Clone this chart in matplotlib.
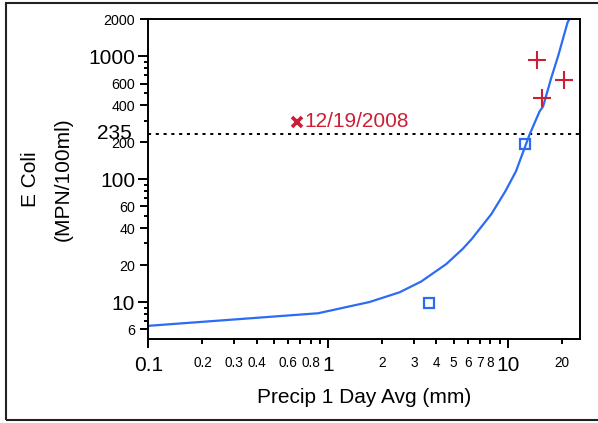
import matplotlib
matplotlib.use("Agg")
import matplotlib.pyplot as plt
from matplotlib.patches import Rectangle
from matplotlib.ticker import FixedLocator, NullFormatter

plt.rcParams['font.family'] = ['Liberation Sans', 'DejaVu Sans']

# Fitted E. coli response curve vs. 1-day average precipitation
curve_x = [0.1, 0.88, 1.7, 2.5, 3.3, 4.55, 5.6, 6.3, 8.1, 9.7, 11.1,
           13.2, 15.0, 15.7, 17.4, 19.1, 21.5, 22.0]
curve_y = [6.4, 8.1, 10.0, 12.0, 14.7, 20.4, 27.0, 32.6, 52.0, 80.0, 116.0,
           230.0, 355.0, 390.0, 660.0, 1020.0, 1890.0, 2000.0]

# Samples below / near the standard
ok_x = [3.64, 12.4]
ok_y = [9.8, 195.0]

# Samples above the standard
high_x = [14.5, 15.5, 20.6]
high_y = [930.0, 460.0, 640.0]

# Flagged sample
flag_x = [0.673]
flag_y = [294.0]
flag_label = "12/19/2008"

standard = 235

x_major = [0.1, 0.2, 0.3, 0.4, 0.6, 0.8, 1, 2, 3, 4, 5, 6, 7, 8, 10, 20]
x_labels = ["0.1", "0.2", "0.3", "0.4", "0.6", "0.8", "1", "2", "3", "4",
            "5", "6", "7", "8", "10", "20"]
x_minor = [0.5, 0.7, 0.9, 9]
x_big = ["0.1", "1", "10"]

y_major = [6, 10, 20, 40, 60, 100, 200, 400, 600, 1000, 2000]
y_labels = ["6", "10", "20", "40", "60", "100", "200", "400", "600", "1000", "2000"]
y_minor = [7, 8, 9, 30, 50, 70, 80, 90, 300, 500, 700, 800, 900]
y_big = ["10", "100", "1000"]

blue = "#2b6cf2"
red = "#cc1f36"

fig = plt.figure(figsize=(5.98, 4.23), dpi=100)
ax = fig.add_axes([148.3 / 598, 1 - 339 / 423, (580 - 148.3) / 598, (339 - 19.3) / 423])

ax.set_xscale("log")
ax.set_yscale("log")
ax.set_xlim(0.1, 25.2)
ax.set_ylim(5, 2000)

ax.axhline(standard, color="black", lw=1.4, linestyle=(0, (1.6, 2.4)), zorder=1)

ax.plot(curve_x, curve_y, color=blue, lw=1.6, zorder=2)
ax.plot(ok_x, ok_y, linestyle="none", marker="s", ms=7.5, mfc="none",
        mec=blue, mew=1.6, zorder=3)
ax.plot(high_x, high_y, linestyle="none", marker="+", ms=13, mec=red,
        mew=1.5, zorder=3)
ax.plot(flag_x, flag_y, linestyle="none", marker="x", ms=6.5, mec=red,
        mew=2.6, zorder=3)
ax.annotate(flag_label, xy=(flag_x[0], flag_y[0]), xytext=(5, 0),
            textcoords="offset points", ha="left", va="center",
            color=red, fontsize=15)

# Axis ticks
ax.xaxis.set_major_locator(FixedLocator(x_major))
ax.xaxis.set_minor_locator(FixedLocator(x_minor))
ax.xaxis.set_minor_formatter(NullFormatter())
ax.set_xticklabels(x_labels)
ax.yaxis.set_major_locator(FixedLocator(y_major))
ax.yaxis.set_minor_locator(FixedLocator(y_minor))
ax.yaxis.set_minor_formatter(NullFormatter())
ax.set_yticklabels(y_labels)

ax.tick_params(axis="x", which="major", length=6.5, width=1.4, pad=6, direction="out")
ax.tick_params(axis="x", which="minor", length=3.8, width=1.4, direction="out")
ax.tick_params(axis="y", which="major", length=7, width=1.4, pad=2.5, direction="out")
ax.tick_params(axis="y", which="minor", length=3, width=1.4, direction="out")

for tick, lab in zip(ax.xaxis.get_major_ticks(), x_labels):
    tick.label1.set_fontsize(15 if lab in x_big else 9.8)
    if lab not in x_big:
        tick.tick1line.set_markersize(3.8)
for tick, lab in zip(ax.yaxis.get_major_ticks(), y_labels):
    tick.label1.set_fontsize(15 if lab in y_big else 10.3)
    if lab not in y_big:
        tick.tick1line.set_markersize(5.8)

for sp in ax.spines.values():
    sp.set_linewidth(1.4)
    sp.set_color("black")

# Standard value label on the y axis
ax.annotate(str(standard), xy=(0, standard), xycoords=("axes fraction", "data"),
            xytext=(-12, 0), textcoords="offset points", ha="right",
            va="center", fontsize=15)

fig.text(31 / 598, 1 - 179 / 423, "E Coli", rotation=90, ha="center",
         va="center", fontsize=15)
fig.text(63 / 598, 1 - 179 / 423, "(MPN/100ml)", rotation=90, ha="center",
         va="center", fontsize=15)
fig.text(364 / 598, 1 - 397 / 423, "Precip 1 Day Avg (mm)", ha="center",
         va="center", fontsize=15)

# Outer frame
fig.patches.append(Rectangle((6 / 598, 1 - 420 / 423), 1.0, (420 - 3) / 423,
                             transform=fig.transFigure, fill=False,
                             edgecolor="#222222", lw=1.5))

fig.savefig("out.png", dpi=100)
